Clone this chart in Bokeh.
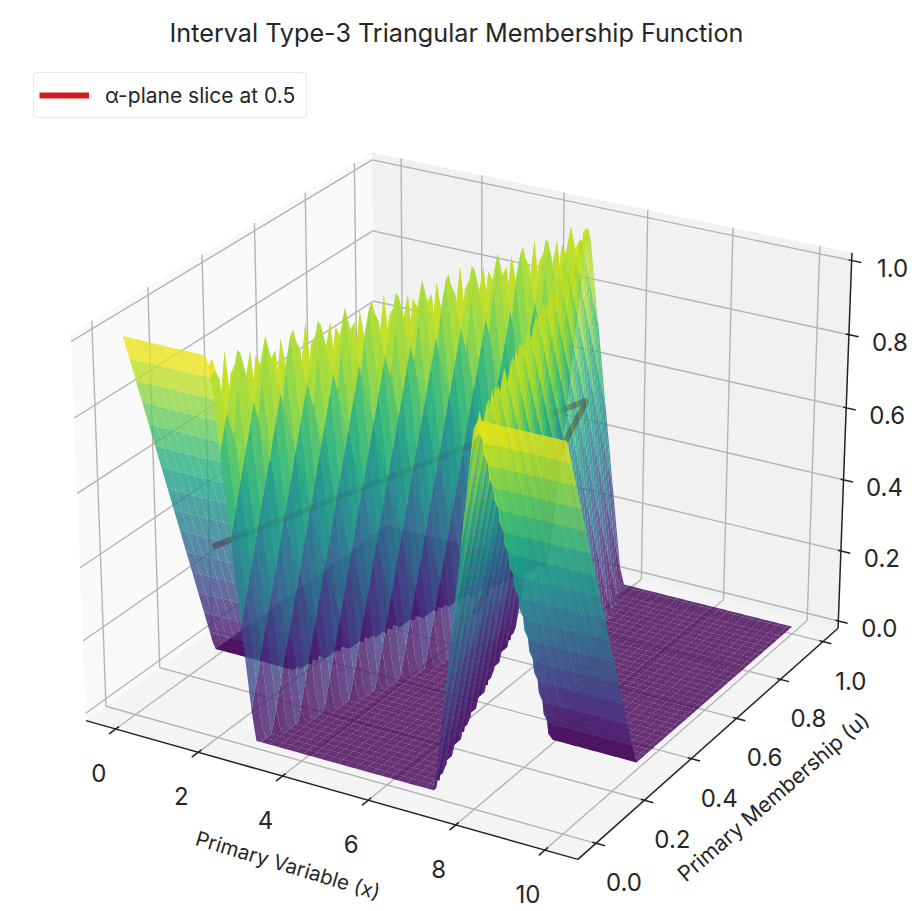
import numpy as np
from bokeh.plotting import figure
from bokeh.models import Range1d, Label, Legend, LegendItem
from bokeh.palettes import Viridis256
from bokeh.core.properties import value
from bokeh.embed import file_html
from bokeh.resources import INLINE

FONT = "Inter"
TITLE = "Interval Type-3 Triangular Membership Function"
LEGEND_TEXT = "α-plane slice at 0.5"
X_LABEL = "Primary Variable (x)"
U_LABEL = "Primary Membership (u)"
Z_LABEL = "Secondary Membership"

x_ticks = [0, 2, 4, 6, 8, 10]
x_tick_labels = ["0", "2", "4", "6", "8", "10"]
u_ticks = [0.0, 0.2, 0.4, 0.6, 0.8, 1.0]
u_tick_labels = ["0.0", "0.2", "0.4", "0.6", "0.8", "1.0"]
z_ticks = [0.0, 0.2, 0.4, 0.6, 0.8, 1.0]
z_tick_labels = ["0.0", "0.2", "0.4", "0.6", "0.8", "1.0"]

# 100 sample columns along x and, per column, the primary membership at which the ridge (z = 1) sits
column_x = [0.0, 0.101, 0.202, 0.303, 0.404, 0.505, 0.606, 0.707, 0.808, 0.909,
            1.01, 1.111, 1.212, 1.313, 1.414, 1.515, 1.616, 1.717, 1.818, 1.919,
            2.02, 2.121, 2.222, 2.323, 2.424, 2.525, 2.626, 2.727, 2.828, 2.929,
            3.03, 3.131, 3.232, 3.333, 3.434, 3.535, 3.636, 3.737, 3.838, 3.939,
            4.04, 4.141, 4.242, 4.343, 4.444, 4.545, 4.646, 4.747, 4.848, 4.949,
            5.051, 5.152, 5.253, 5.354, 5.455, 5.556, 5.657, 5.758, 5.859, 5.96,
            6.061, 6.162, 6.263, 6.364, 6.465, 6.566, 6.667, 6.768, 6.869, 6.97,
            7.071, 7.172, 7.273, 7.374, 7.475, 7.576, 7.677, 7.778, 7.879, 7.98,
            8.081, 8.182, 8.283, 8.384, 8.485, 8.586, 8.687, 8.788, 8.889, 8.99,
            9.091, 9.192, 9.293, 9.394, 9.495, 9.596, 9.697, 9.798, 9.899, 10.0]
ridge_u = [0, 0, 0, 0, 0, 0, 0, 0, 0, 0,
           0, 0, 0, 0, 0, 0, 0, 0, 0, 0,
           0.007, 0.040, 0.074, 0.108, 0.141, 0.175, 0.209, 0.242, 0.276, 0.310,
           0.343, 0.377, 0.411, 0.444, 0.478, 0.512, 0.545, 0.579, 0.613, 0.646,
           0.680, 0.714, 0.747, 0.781, 0.815, 0.848, 0.882, 0.916, 0.949, 0.983,
           0.983, 0.949, 0.916, 0.882, 0.848, 0.815, 0.781, 0.747, 0.714, 0.680,
           0.646, 0.613, 0.579, 0.545, 0.512, 0.478, 0.444, 0.411, 0.377, 0.343,
           0.310, 0.276, 0.242, 0.209, 0.175, 0.141, 0.108, 0.074, 0.040, 0.007,
           0, 0, 0, 0, 0, 0, 0, 0, 0, 0,
           0, 0, 0, 0, 0, 0, 0, 0, 0, 0]
row_count = 100
falloff_width = 0.3   # z falls from 1 to 0 over this distance in u
cell_stride = 2       # each drawn cell spans two samples, its outline passes through the samples between

slice_x = [2, 5, 8]
slice_u = [0, 1, 0]
slice_z = [0.5, 0.5, 0.5]

# axis limits and camera
XLIM = (-0.7292, 10.7292)
ULIM = (-0.0729, 1.0729)
ZLIM = (-0.0208, 1.0208)
ELEV, AZIM, DIST = np.radians(25), np.radians(-60), 10.0
BOX = np.array([1.1905, 1.1905, 0.8929])
S, CX, CY = 4710.0, 468.8, 486.0
W, H = 922, 911
n_vec = np.array([np.cos(ELEV)*np.cos(AZIM), np.cos(ELEV)*np.sin(AZIM), np.sin(ELEV)])
r_vec = np.array([-np.sin(AZIM), np.cos(AZIM), 0.0])
t_vec = np.cross(n_vec, r_vec)


def project(x, u, z):
    x, u, z = np.asarray(x, float), np.asarray(u, float), np.asarray(z, float)
    q = np.stack([(x-XLIM[0])/(XLIM[1]-XLIM[0]), (u-ULIM[0])/(ULIM[1]-ULIM[0]), (z-ZLIM[0])/(ZLIM[1]-ZLIM[0])], -1)*BOX - BOX/2
    d = DIST - q @ n_vec
    return (q @ r_vec)/d, (q @ t_vec)/d, d


def seg(a, b):
    xa, ya, _ = project(*a)
    xb, yb, _ = project(*b)
    return [float(xa), float(xb)], [float(ya), float(yb)]


p = figure(width=W, height=H, output_backend="svg", toolbar_location=None, min_border=0,
           x_range=Range1d((0-CX)/S, (W-CX)/S), y_range=Range1d((CY-H)/S, CY/S),
           x_axis_type=None, y_axis_type=None, outline_line_color=None, background_fill_color="white")
p.grid.visible = False

x0, x1 = XLIM; u0, u1 = ULIM; z0, z1 = ZLIM
# panes
panes = [([x0, x0, x0, x0], [u0, u1, u1, u0], [z0, z0, z1, z1], "#f9f9f9"),
         ([x0, x1, x1, x0], [u1, u1, u1, u1], [z0, z0, z1, z1], "#f1f1f1"),
         ([x0, x1, x1, x0], [u0, u0, u1, u1], [z0, z0, z0, z0], "#f4f4f4")]
pxs, pys, pcs = [], [], []
for a, b, c, col in panes:
    X, Y, _ = project(a, b, c)
    pxs.append(X.tolist()); pys.append(Y.tolist()); pcs.append(col)
p.patches(pxs, pys, fill_color=pcs, line_color=None)

# grid
gx, gy = [], []
def add(lst_a, lst_b):
    s = seg(lst_a, lst_b); gx.append(s[0]); gy.append(s[1])
for t in x_ticks:
    add((t, u0, z0), (t, u1, z0)); add((t, u1, z0), (t, u1, z1))
for t in u_ticks:
    add((x0, t, z0), (x1, t, z0)); add((x0, t, z0), (x0, t, z1))
for t in z_ticks:
    add((x0, u0, t), (x0, u1, t)); add((x0, u1, t), (x1, u1, t))
p.multi_line(gx, gy, line_color="#b4b4b4", line_width=1.4)

# axis lines and ticks
ax, ay = [], []
for a, b in [((x0, u0, z0), (x1, u0, z0)), ((x1, u0, z0), (x1, u1, z0)), ((x1, u1, z0), (x1, u1, z1))]:
    s = seg(a, b); ax.append(s[0]); ay.append(s[1])
for t in x_ticks:
    s = seg((t, u0-0.024, z0), (t, u0+0.012, z0)); ax.append(s[0]); ay.append(s[1])
for t in u_ticks:
    s = seg((x1-0.08, t, z0), (x1+0.2, t, z0)); ax.append(s[0]); ay.append(s[1])
for t in z_ticks:
    s = seg((x1-0.07, u1, t), (x1+0.22, u1, t)); ax.append(s[0]); ay.append(s[1])
p.multi_line(ax, ay, line_color="#222222", line_width=1.5)

# alpha-plane slice lies beneath the translucent surface
lx, ly, _ = project(slice_x, slice_u, slice_z)
slice_line = p.line(lx.tolist(), ly.tolist(), line_color="#d01c1f", line_width=6)

# surface mesh
u_grid = np.array([j/(row_count-1) for j in range(row_count)])
cx_arr = np.array(column_x)
Z = np.array([[max(0.0, 1-abs(uu-r)/falloff_width) for uu in u_grid] for r in ridge_u])


def inds(n):
    return list(range(0, n-1, cell_stride)) + [n-1]


polys = []
ci, ri = inds(len(column_x)), inds(row_count)
for a, b in zip(ci[:-1], ci[1:]):
    for c, e in zip(ri[:-1], ri[1:]):
        per = ([(i, c) for i in range(a, b)] + [(b, j) for j in range(c, e)] +
               [(i, e) for i in range(b, a, -1)] + [(a, j) for j in range(e, c, -1)])
        xs = [cx_arr[i] for i, j in per]
        us = [u_grid[j] for i, j in per]
        zs = [Z[i, j] for i, j in per]
        X, Y, d = project(xs, us, zs)
        polys.append((float(d.mean()), X.tolist(), Y.tolist(), Viridis256[min(255, int(np.mean(zs)*255.999))]))
polys.sort(key=lambda t: -t[0])
p.patches([t[1] for t in polys], [t[2] for t in polys], fill_color=[t[3] for t in polys],
          fill_alpha=0.8, line_color=None)

# tick labels
def labels(pos, txt, dx, dy, size="24px", angle=0.0):
    X, Y, _ = project(*zip(*pos))
    p.text(X.tolist(), Y.tolist(), text=txt, x_offset=dx, y_offset=dy, angle=angle,
           text_font=value(FONT), text_font_size=size, text_color="#262626",
           text_align="center", text_baseline="middle")

labels([(t, u0, z0) for t in x_ticks], x_tick_labels, -17, 44)
labels([(x1, t, z0) for t in u_ticks], u_tick_labels, 28, 39)
labels([(x1, u1, t) for t in z_ticks], z_tick_labels, 41, 7)
labels([(5, u0, z0)], [X_LABEL], -37, 77, "20.5px", np.radians(-16.7))
labels([(x1, 0.5, z0)], [U_LABEL], 59, 58, "21.4px", np.radians(41))
labels([(x1, u1, 0.5)], [Z_LABEL], 88, 70, "20.5px", np.radians(90))

p.add_layout(Label(x=456, y=H-32, x_units="screen", y_units="screen", text=TITLE,
                   text_font=FONT, text_font_size="25.2px", text_color="#262626",
                   text_align="center", text_baseline="middle"))

legend = Legend(items=[LegendItem(label=LEGEND_TEXT, renderers=[slice_line])],
                location=(33, H-118), orientation="vertical", padding=5, margin=0, spacing=0,
                glyph_width=50, glyph_height=34, label_height=34, label_width=196, label_standoff=16,
                label_text_font=FONT, label_text_font_size="21px", label_text_color="#262626",
                border_line_color="#d6d6d6", border_line_width=1.5, background_fill_alpha=1)
if "border_radius" in Legend.properties():
    legend.border_radius = 4
p.add_layout(legend)

open("out.html", "w").write(file_html(p, INLINE))
